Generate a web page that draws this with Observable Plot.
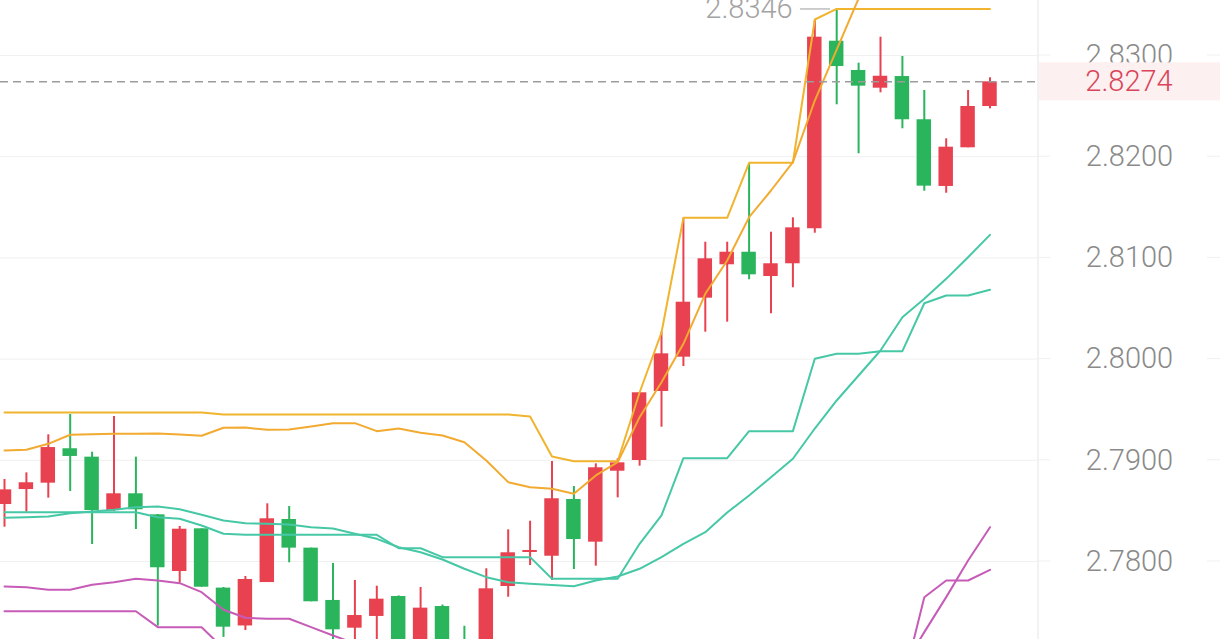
<!DOCTYPE html>
<html><head><meta charset="utf-8">
<script src="https://cdn.jsdelivr.net/npm/d3@7"></script>
<script src="https://cdn.jsdelivr.net/npm/@observablehq/plot@0.6"></script>
<style>
html,body{margin:0;padding:0;background:#fff;overflow:hidden}
#chart svg{display:block}
</style></head><body><div id="chart"></div>
<script>
// Candles (red = up, green = down)
const open = [2.78563,2.78711,2.78774,2.79114,2.79031,2.78504,2.78669,2.78461,2.77901,2.78323,
  2.77737,2.77363,2.77792,2.78415,2.78132,2.77615,2.77341,2.77457,2.77654,2.7716,
  2.77555,2.7719,2.7713,2.77753,2.78089,2.78052,2.78613,2.78191,2.78892,2.78998,
  2.7968,2.80019,2.80602,2.80932,2.81056,2.80816,2.80942,2.81288,2.83141,2.82852,
  2.82677,2.82792,2.82365,2.81706,2.82088,2.82496];
const high = [2.7881,2.78876,2.79252,2.79453,2.7908,2.79433,2.79031,2.78464,2.78346,2.78323,
  2.77743,2.77852,2.7857,2.78543,2.78132,2.7798,2.77812,2.77756,2.7766,2.77743,
  2.7757,2.7736,2.77928,2.78313,2.78398,2.78988,2.78741,2.78965,2.79015,2.7967,
  2.80266,2.81389,2.81155,2.81155,2.8193,2.81254,2.81396,2.83346,2.8346,2.82924,
  2.83181,2.8299,2.82654,2.82177,2.82654,2.8278];
const low = [2.78339,2.78487,2.78626,2.78692,2.78168,2.78494,2.78316,2.77361,2.77786,2.77746,
  2.7725,2.77318,2.77792,2.77987,2.77602,2.7715,2.7712,2.7713,2.7705,2.771,
  2.7706,2.7704,2.771,2.77647,2.7796,2.77812,2.77921,2.77954,2.78629,2.78942,
  2.79327,2.79927,2.80266,2.80365,2.80784,2.80448,2.80705,2.81244,2.82513,2.82029,
  2.82631,2.82276,2.81659,2.81639,2.82088,2.82473];
const close = [2.78708,2.78778,2.79126,2.79038,2.78504,2.78669,2.78511,2.77938,2.78319,2.77746,
  2.77351,2.77822,2.78422,2.78132,2.77602,2.77325,2.77466,2.77628,2.7715,2.77539,
  2.7714,2.7711,2.7773,2.78086,2.78109,2.7862,2.78217,2.78926,2.78975,2.79667,
  2.80052,2.80562,2.80991,2.81056,2.80833,2.80942,2.81297,2.83181,2.82891,2.82697,
  2.82795,2.82365,2.81709,2.82094,2.82496,2.8274];

// Indicator lines
const upperStep = [2.79472,2.79472,2.79472,2.79472,2.79472,2.79472,2.79472,2.79472,2.79472,2.79472,
  2.79453,2.79453,2.79453,2.79453,2.79453,2.79453,2.79453,2.79453,2.79453,2.79453,
  2.79453,2.79453,2.79453,2.79453,2.79433,2.79038,2.78991,2.78991,2.78991,2.7967,
  2.80263,2.81396,2.81396,2.81396,2.8194,2.8194,2.8194,2.83356,2.8346,2.8346,
  2.8346,2.8346,2.8346,2.8346,2.8346,2.8346];
const upperSmooth = [2.79097,2.79104,2.79163,2.79252,2.79258,2.79262,2.79262,2.79265,2.79255,2.79242,
  2.79321,2.79324,2.79301,2.79304,2.79334,2.79367,2.79367,2.79288,2.79314,2.79272,
  2.79245,2.79179,2.78998,2.78784,2.78734,2.78718,2.78669,2.7885,2.78981,2.79426,
  2.79772,2.80151,2.80645,2.80974,2.81402,2.81666,2.81946,2.82555,2.83059,2.83563,
  null,null,null,null,null,null];
const midStep = [2.78487,2.78487,2.78487,2.78487,2.78487,2.78487,2.78487,2.78438,2.78422,2.78356,
  2.78274,2.78264,2.78264,2.78264,2.78264,2.78264,2.78264,2.78264,2.78131,2.78131,
  2.78043,2.78043,2.78043,2.78043,2.78043,2.7783,2.7783,2.7783,2.7783,2.78175,
  2.78455,2.79021,2.79021,2.79021,2.79288,2.79288,2.79288,2.80003,2.80052,2.80052,
  2.80078,2.80078,2.80552,2.80628,2.80628,2.80685];
const midSmooth = [2.78432,2.78438,2.78445,2.78477,2.78494,2.78511,2.78537,2.78544,2.78517,2.78461,
  2.78405,2.78379,2.78372,2.78366,2.78339,2.78326,2.78274,2.78224,2.78141,2.78092,
  2.7802,2.77928,2.77845,2.77795,2.7778,2.77768,2.77756,2.77812,2.77852,2.77928,
  2.78043,2.78175,2.7829,2.78484,2.78652,2.78833,2.79015,2.79314,2.79591,2.79838,
  2.80085,2.80414,2.80596,2.80793,2.81007,2.81228];
const lowStep = [2.77509,2.77509,2.77509,2.77509,2.77509,2.77509,2.77509,2.77351,2.77351,2.77351,
  2.7714,null,null,null,null,null,null,null,null,null,
  null,null,null,null,null,null,null,null,null,null,
  null,null,null,null,null,null,null,null,null,null,
  null,2.76775,2.77647,2.77812,2.77812,2.77918];
const lowSmooth = [2.77753,2.77746,2.7772,2.7772,2.7777,2.77795,2.77829,2.77812,2.77786,2.77697,
  2.77523,2.77444,2.77434,2.77434,2.77351,2.77269,2.7719,null,null,null,
  null,null,null,null,null,null,null,null,null,null,
  null,null,null,null,null,null,null,null,null,null,
  null,2.76943,2.77302,2.77648,2.7801,2.78339];

const yTicks = [2.78, 2.79, 2.80, 2.81, 2.82, 2.83];
const lastPrice = close[close.length - 1];

const RED = "#e8414f", GREEN = "#2ab45c";
const GOLD = "#f0b42e", ORANGE = "#f2aa30", TEAL = "#46c8a6", MAGENTA = "#c65cb7";

const candles = open.map((o, i) => ({i, open: o, high: high[i], low: low[i], close: close[i]}));
const colorOf = d => d.close >= d.open ? RED : GREEN;

const series = [
  {name: "upperStep", values: upperStep, color: GOLD},
  {name: "upperSmooth", values: upperSmooth, color: ORANGE},
  {name: "midStep", values: midStep, color: TEAL},
  {name: "midSmooth", values: midSmooth, color: TEAL},
  {name: "lowStep", values: lowStep, color: MAGENTA},
  {name: "lowSmooth", values: lowSmooth, color: MAGENTA}
];
const lineData = series.flatMap(s => s.values.map((v, i) => ({i, v, name: s.name, color: s.color})));

const maxIdx = high.indexOf(d3.max(high));

const chart = Plot.plot({
  width: 1220, height: 639,
  marginLeft: 0, marginRight: 182, marginTop: 0, marginBottom: 0,
  style: {fontFamily: "Roboto, sans-serif", background: "#fff", overflow: "hidden"},
  x: {type: "linear", domain: [-0.1826, 47.2146], axis: null},
  y: {domain: [2.772292, 2.835435], axis: null},
  color: {type: "identity"},
  marks: [
    Plot.ruleY(yTicks, {stroke: "#f0f0f0", strokeWidth: 1}),
    Plot.axisY(yTicks, {anchor: "right", tickSize: 0, tickPadding: 91, textAnchor: "middle",
      tickFormat: d => d.toFixed(4), fontSize: 29, fontWeight: 300, fill: "#8a8a8a"}),
    Plot.ruleX(candles, {x: "i", y1: "low", y2: "high", stroke: colorOf, strokeWidth: 2}),
    Plot.rect(candles, {x1: d => d.i - 0.33, x2: d => d.i + 0.33, y1: "open", y2: "close", fill: colorOf}),
    Plot.line(lineData, {x: "i", y: "v", z: "name", stroke: "color", strokeWidth: 2, clip: true}),
    Plot.ruleY([lastPrice], {stroke: "#9c9c9c", strokeDasharray: "8,5", strokeWidth: 1.6}),
    Plot.ruleY([maxIdx], {y: d => high[d], x1: d => d - 1.65, x2: d => d - 0.28, stroke: "#bdbdbd", strokeWidth: 1.5}),
    Plot.text([maxIdx], {x: d => d, y: d => high[d], text: d => high[d].toFixed(4), dx: -44,
      textAnchor: "end", fontSize: 29, fontWeight: 300, fill: "#a3a3a3"})
  ]
});

document.getElementById("chart").appendChild(chart);

// Right price panel decorations, positioned with the plot's own y scale
const svg = d3.select(chart);
const ys = chart.scale("y");
const X0 = 1038;
svg.append("line").attr("x1", X0).attr("x2", X0).attr("y1", 0).attr("y2", 639)
  .attr("stroke", "#eeeeee").attr("stroke-width", 1.5);
yTicks.forEach(t => {
  const y = ys.apply(t);
  [[X0, 1050], [1207, 1220]].forEach(([a, b]) => {
    svg.append("line").attr("x1", a).attr("x2", b).attr("y1", y).attr("y2", y)
      .attr("stroke", "#f0f0f0").attr("stroke-width", 1);
  });
});
const yl = ys.apply(lastPrice);
svg.append("rect").attr("x", X0 + 1).attr("y", yl - 19).attr("width", 1220 - X0).attr("height", 38)
  .attr("fill", "#fdf0f0");
svg.append("text").attr("x", 1129).attr("y", yl).attr("dy", "0.34em")
  .attr("text-anchor", "middle").attr("font-size", 29).attr("font-weight", 300)
  .attr("font-family", "Roboto, sans-serif")
  .attr("fill", "#d8455a").text(lastPrice.toFixed(4));
</script>
</body></html>
